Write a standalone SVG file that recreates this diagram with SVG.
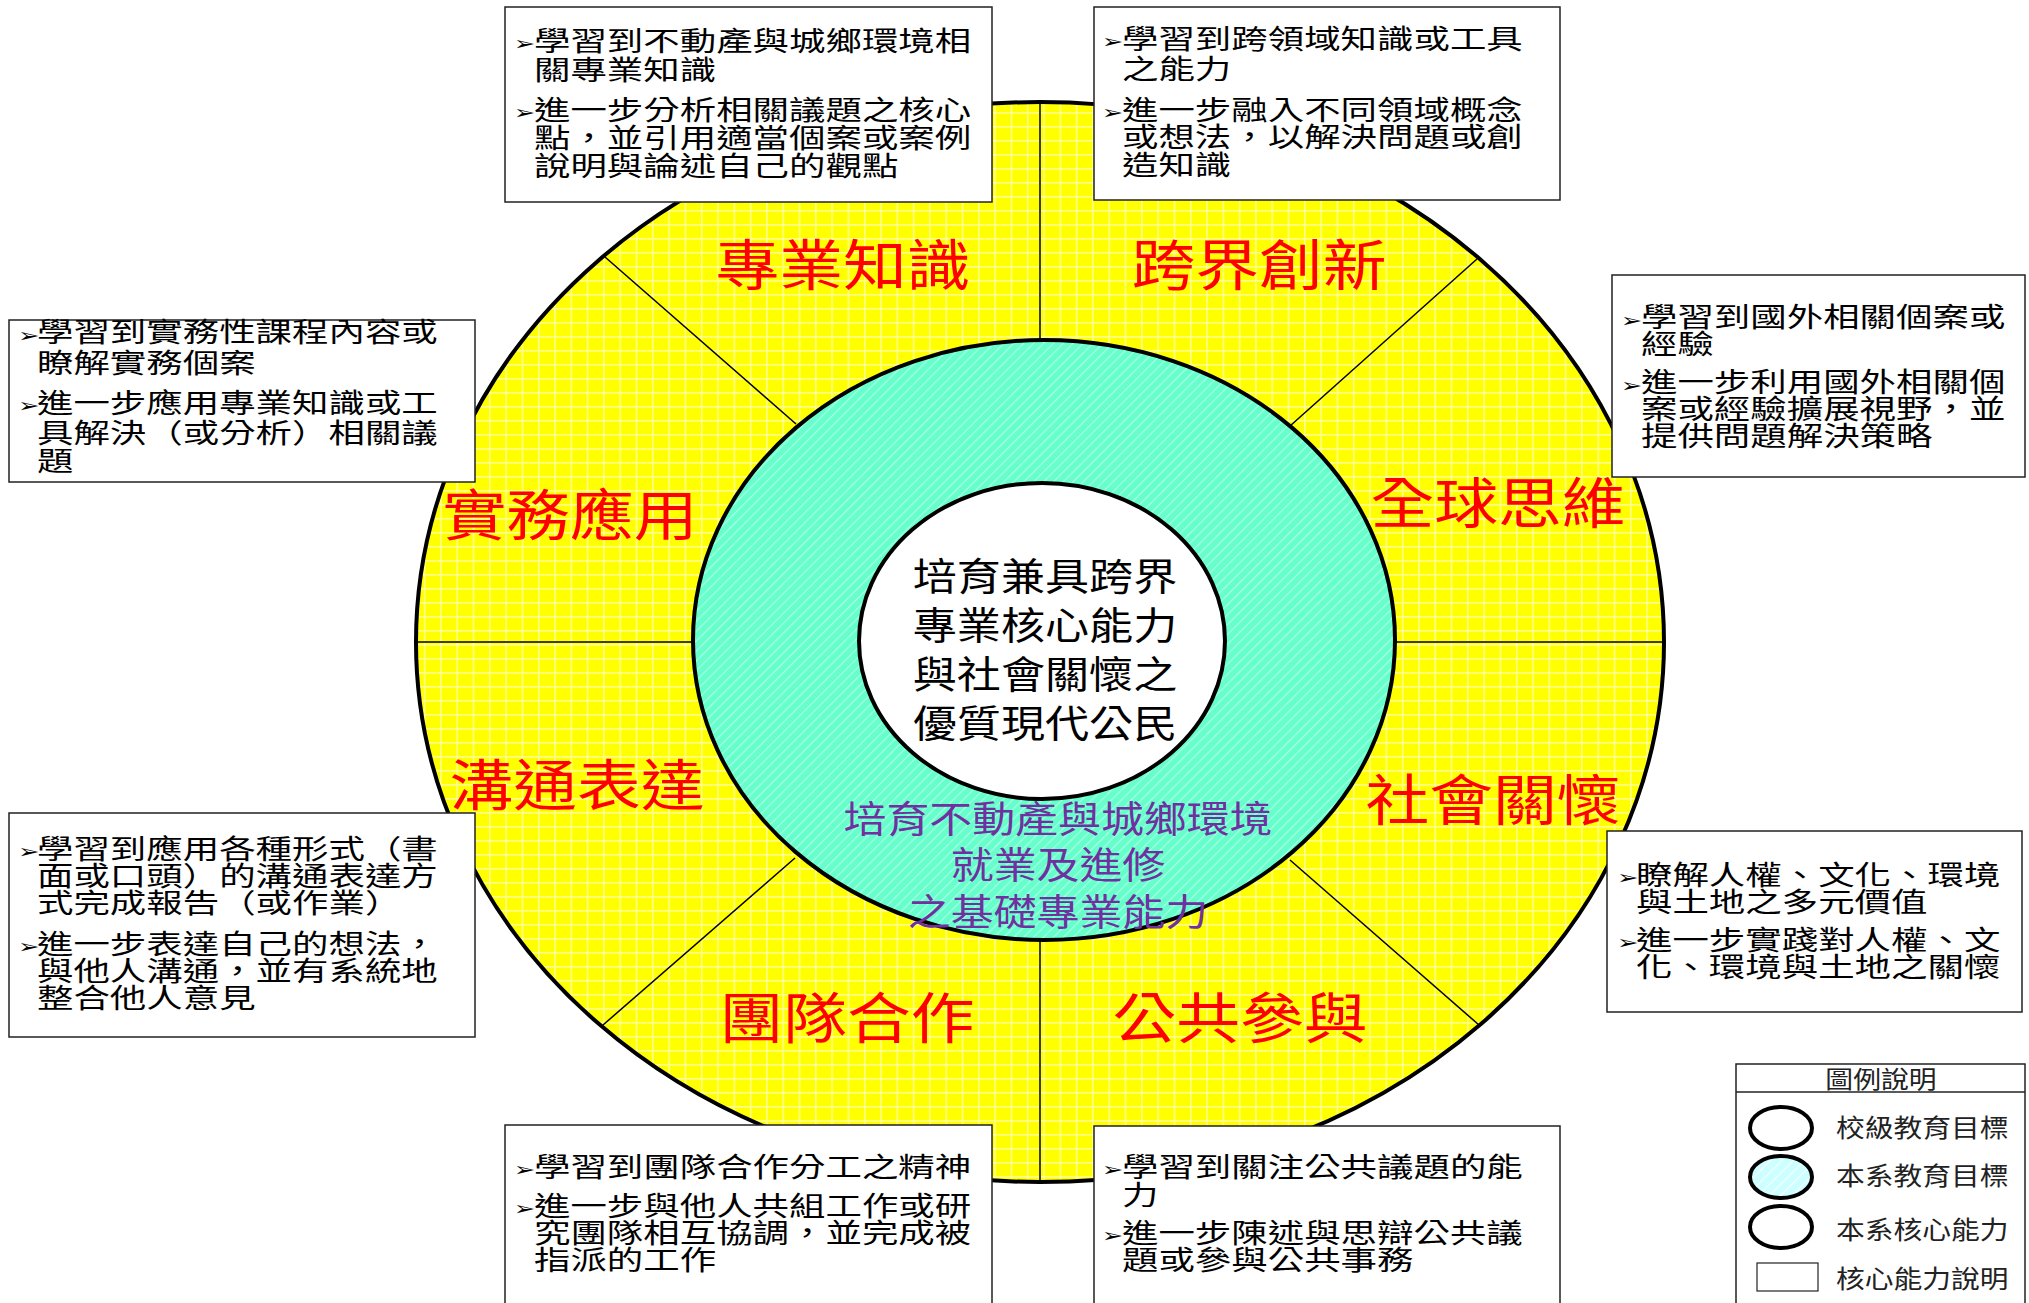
<svg xmlns="http://www.w3.org/2000/svg" width="2029" height="1303" viewBox="0 0 2029 1303">
<defs>
  <pattern id="yellowGrid" patternUnits="userSpaceOnUse" width="16.3" height="14">
    <rect width="16.3" height="14" fill="#FFFF00"/>
    <line x1="0.8" y1="0" x2="0.8" y2="14" stroke="#FFFF99" stroke-width="1.5"/>
    <line x1="0" y1="0.8" x2="16.3" y2="0.8" stroke="#FFFF99" stroke-width="1.5"/>
  </pattern>
  <pattern id="tealHatch" patternUnits="userSpaceOnUse" width="7" height="7" patternTransform="rotate(45)">
    <rect width="7" height="7" fill="#66FFCC"/>
    <line x1="0.6" y1="0" x2="0.6" y2="7" stroke="#AFFFE4" stroke-width="1.1"/>
  </pattern>
  <pattern id="cyanHatch" patternUnits="userSpaceOnUse" width="8" height="8" patternTransform="rotate(45)">
    <rect width="8" height="8" fill="#CCFFFF"/>
    <line x1="0.6" y1="0" x2="0.6" y2="8" stroke="#FFFFFF" stroke-width="1.1"/>
  </pattern>
</defs>
<style>
  .label { font-family: "Noto Sans CJK TC", "Noto Sans CJK SC", sans-serif; font-size: 55px; fill: #FF0000; }
  .center { font-family: "Noto Sans CJK TC", "Noto Sans CJK SC", sans-serif; font-size: 38px; fill: #000000; }
  .purple { font-family: "Noto Sans CJK TC", "Noto Sans CJK SC", sans-serif; font-size: 37px; fill: #7030A0; }
  .box { fill: #FFFFFF; stroke: #222222; stroke-width: 1.5; }
  .bt { font-family: "Noto Sans CJK TC", "Noto Sans CJK SC", sans-serif; font-size: 27px; fill: #000000; }
  .bul { font-family: "DejaVu Sans", sans-serif; font-size: 19px; fill: #000000; }
  .div { stroke: #000000; stroke-width: 1.5; fill: none; }
  .lg { font-family: "Noto Sans CJK TC", "Noto Sans CJK SC", sans-serif; font-size: 24.8px; fill: #222222; }
</style>

<g id="outer-ring">
  <ellipse cx="1040" cy="642" rx="624" ry="540" fill="url(#yellowGrid)" stroke="#000" stroke-width="4"/>
</g>

<g id="dividers">
  <line class="div" x1="1040" y1="102" x2="1040" y2="1182"/>
  <line class="div" x1="416" y1="642" x2="1664" y2="642"/>
  <line class="div" x1="605" y1="257" x2="796" y2="424"/>
  <line class="div" x1="1477" y1="259" x2="1290" y2="426"/>
  <line class="div" x1="603" y1="1025" x2="795" y2="858"/>
  <line class="div" x1="1479" y1="1025" x2="1290" y2="860"/>
</g>

<g id="dept-goal">
  <ellipse cx="1044" cy="640" rx="351" ry="300" fill="url(#tealHatch)" stroke="#000" stroke-width="4"/>
  <g class="purple" text-anchor="middle">
    <text transform="translate(1058 833) scale(1.16 1)">培育不動產與城鄉環境</text>
    <text transform="translate(1058 879) scale(1.16 1)">就業及進修</text>
    <text transform="translate(1058 926) scale(1.16 1)">之基礎專業能力</text>
  </g>
</g>

<g id="school-goal">
  <ellipse cx="1042" cy="641" rx="183" ry="158" fill="#FFFFFF" stroke="#000" stroke-width="4"/>
  <g class="center" text-anchor="middle">
    <text transform="translate(1045 590) scale(1.16 1)">培育兼具跨界</text>
    <text transform="translate(1045 639) scale(1.16 1)">專業核心能力</text>
    <text transform="translate(1045 688) scale(1.16 1)">與社會關懷之</text>
    <text transform="translate(1045 737) scale(1.16 1)">優質現代公民</text>
  </g>
</g>

<g id="core-labels" class="label" text-anchor="middle">
  <text id="lbl-professional" transform="translate(843 285) scale(1.16 1)">專業知識</text>
  <text id="lbl-innovation" transform="translate(1259 285) scale(1.16 1)">跨界創新</text>
  <text id="lbl-practice" transform="translate(570 535) scale(1.16 1)">實務應用</text>
  <text id="lbl-global" transform="translate(1498 523) scale(1.16 1)">全球思維</text>
  <text id="lbl-communication" transform="translate(577 805) scale(1.16 1)">溝通表達</text>
  <text id="lbl-social" transform="translate(1493 820) scale(1.16 1)">社會關懷</text>
  <text id="lbl-team" transform="translate(847 1038) scale(1.16 1)">團隊合作</text>
  <text id="lbl-public" transform="translate(1240 1038) scale(1.16 1)">公共參與</text>
</g>

<g id="box-professional">
  <rect class="box" x="505" y="7" width="487" height="195"/>
  <g transform="translate(534 0) scale(1.35 1)">
    <text class="bul" x="-15" y="50">➢</text>
    <text class="bt" x="0" y="51">學習到不動產與城鄉環境相</text>
    <text class="bt" x="0" y="80">關專業知識</text>
    <text class="bul" x="-15" y="119">➢</text>
    <text class="bt" x="0" y="120">進一步分析相關議題之核心</text>
    <text class="bt" x="0" y="148">點，並引用適當個案或案例</text>
    <text class="bt" x="0" y="176">說明與論述自己的觀點</text>
  </g>
</g>

<g id="box-innovation">
  <rect class="box" x="1094" y="7" width="466" height="193"/>
  <g transform="translate(1122 0) scale(1.35 1)">
    <text class="bul" x="-15" y="48">➢</text>
    <text class="bt" x="0" y="49">學習到跨領域知識或工具</text>
    <text class="bt" x="0" y="79">之能力</text>
    <text class="bul" x="-15" y="119">➢</text>
    <text class="bt" x="0" y="120">進一步融入不同領域概念</text>
    <text class="bt" x="0" y="147">或想法，以解決問題或創</text>
    <text class="bt" x="0" y="175">造知識</text>
  </g>
</g>

<g id="box-practice">
  <rect class="box" x="9" y="320" width="466" height="162"/>
  <g transform="translate(37 0) scale(1.35 1)">
    <text class="bul" x="-14" y="342">➢</text>
    <text class="bt" x="0" y="342">學習到實務性課程內容或</text>
    <text class="bt" x="0" y="373">瞭解實務個案</text>
    <text class="bul" x="-14" y="412">➢</text>
    <text class="bt" x="0" y="413">進一步應用專業知識或工</text>
    <text class="bt" x="0" y="443">具解決（或分析）相關議</text>
    <text class="bt" x="0" y="471">題</text>
  </g>
</g>

<g id="box-global">
  <rect class="box" x="1612" y="275" width="413" height="202"/>
  <g transform="translate(1641 0) scale(1.35 1)">
    <text class="bul" x="-15" y="327">➢</text>
    <text class="bt" x="0" y="327">學習到國外相關個案或</text>
    <text class="bt" x="0" y="354">經驗</text>
    <text class="bul" x="-15" y="392">➢</text>
    <text class="bt" x="0" y="392">進一步利用國外相關個</text>
    <text class="bt" x="0" y="419">案或經驗擴展視野，並</text>
    <text class="bt" x="0" y="446">提供問題解決策略</text>
  </g>
</g>

<g id="box-communication">
  <rect class="box" x="9" y="813" width="466" height="224"/>
  <g transform="translate(37 0) scale(1.35 1)">
    <text class="bul" x="-14" y="858">➢</text>
    <text class="bt" x="0" y="859">學習到應用各種形式（書</text>
    <text class="bt" x="0" y="886">面或口頭）的溝通表達方</text>
    <text class="bt" x="0" y="913">式完成報告（或作業）</text>
    <text class="bul" x="-14" y="953">➢</text>
    <text class="bt" x="0" y="954">進一步表達自己的想法，</text>
    <text class="bt" x="0" y="981">與他人溝通，並有系統地</text>
    <text class="bt" x="0" y="1008">整合他人意見</text>
  </g>
</g>

<g id="box-social">
  <rect class="box" x="1607" y="831" width="415" height="181"/>
  <g transform="translate(1636 0) scale(1.35 1)">
    <text class="bul" x="-14" y="884">➢</text>
    <text class="bt" x="0" y="885">瞭解人權、文化、環境</text>
    <text class="bt" x="0" y="912">與土地之多元價值</text>
    <text class="bul" x="-14" y="949">➢</text>
    <text class="bt" x="0" y="950">進一步實踐對人權、文</text>
    <text class="bt" x="0" y="977">化、環境與土地之關懷</text>
  </g>
</g>

<g id="box-team">
  <rect class="box" x="505" y="1125" width="487" height="190"/>
  <g transform="translate(534 0) scale(1.35 1)">
    <text class="bul" x="-15" y="1176">➢</text>
    <text class="bt" x="0" y="1177">學習到團隊合作分工之精神</text>
    <text class="bul" x="-15" y="1215">➢</text>
    <text class="bt" x="0" y="1216">進一步與他人共組工作或研</text>
    <text class="bt" x="0" y="1243">究團隊相互協調，並完成被</text>
    <text class="bt" x="0" y="1270">指派的工作</text>
  </g>
</g>

<g id="box-public">
  <rect class="box" x="1094" y="1126" width="466" height="190"/>
  <g transform="translate(1122 0) scale(1.35 1)">
    <text class="bul" x="-15" y="1176">➢</text>
    <text class="bt" x="0" y="1177">學習到關注公共議題的能</text>
    <text class="bt" x="0" y="1205">力</text>
    <text class="bul" x="-15" y="1242">➢</text>
    <text class="bt" x="0" y="1243">進一步陳述與思辯公共議</text>
    <text class="bt" x="0" y="1270">題或參與公共事務</text>
  </g>
</g>

<g id="legend">
  <rect x="1736" y="1064" width="289" height="250" fill="#FFFFFF" stroke="#222" stroke-width="1.5"/>
  <line x1="1736" y1="1092" x2="2025" y2="1092" stroke="#222" stroke-width="1.5"/>
  <text class="lg" text-anchor="middle" style="font-size:24px" transform="translate(1881 1088) scale(1.16 1)">圖例說明</text>
  <ellipse cx="1781" cy="1128" rx="31" ry="21" fill="#FFFFFF" stroke="#000" stroke-width="4"/>
  <ellipse cx="1781" cy="1177" rx="31" ry="21" fill="url(#cyanHatch)" stroke="#000" stroke-width="4"/>
  <ellipse cx="1781" cy="1227" rx="31" ry="21" fill="#FFFFFF" stroke="#000" stroke-width="4"/>
  <rect x="1757" y="1263" width="61" height="28" fill="#FFFFFF" stroke="#222" stroke-width="1.2"/>
  <g transform="translate(1836 0) scale(1.16 1)">
    <text class="lg" x="0" y="1137">校級教育目標</text>
    <text class="lg" x="0" y="1185">本系教育目標</text>
    <text class="lg" x="0" y="1239">本系核心能力</text>
    <text class="lg" x="0" y="1288">核心能力說明</text>
  </g>
</g>
</svg>
